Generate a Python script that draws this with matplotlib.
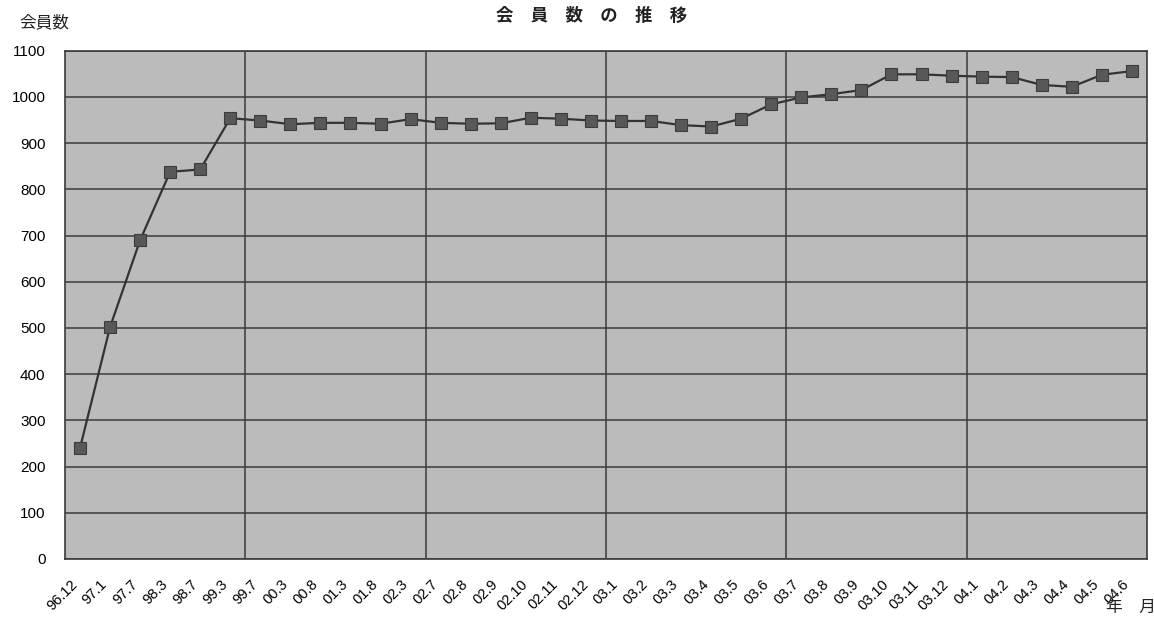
import numpy as np
import matplotlib
matplotlib.use("Agg")
import matplotlib.pyplot as plt
import matplotlib.transforms as mtransforms

plt.rcParams["font.family"] = ["Liberation Sans", "Noto Sans CJK JP"]

# month labels (yy.m) and member counts
months = [
    "96.12", "97.1", "97.7", "98.3", "98.7", "99.3", "99.7", "00.3", "00.8",
    "01.3", "01.8", "02.3", "02.7", "02.8", "02.9", "02.10", "02.11", "02.12",
    "03.1", "03.2", "03.3", "03.4", "03.5", "03.6", "03.7", "03.8", "03.9",
    "03.10", "03.11", "03.12", "04.1", "04.2", "04.3", "04.4", "04.5", "04.6",
]
members = [
    240, 502, 690, 838, 843, 954, 949, 941, 944,
    944, 942, 952, 944, 942, 943, 955, 953, 949,
    948, 948, 939, 936, 953, 984, 999, 1006, 1015,
    1049, 1049, 1046, 1044, 1043, 1026, 1022, 1048, 1056,
]
y_ticks = list(range(0, 1101, 100))

fig = plt.figure(figsize=(11.54, 6.19), dpi=100)
ax = fig.add_axes([0.0563, 0.097, 0.9376, 0.821])
ax.set_facecolor("#bbbbbb")

x = np.arange(len(months))
ax.plot(x, members, color="#333333", lw=1.6, marker="s", ms=8.5,
        mfc="#585858", mec="#3c3c3c", mew=0.8, zorder=3)

ax.set_xlim(-0.5, len(months) - 0.5)
ax.set_ylim(0, 1100)
ax.set_yticks(y_ticks)
ax.set_xticks(x)
ax.set_xticklabels(months, rotation=45, ha="right", va="top", fontsize=10.5)
shift = mtransforms.ScaledTranslation(-7 / 100, 0, fig.dpi_scale_trans)
for lbl in ax.get_xticklabels():
    lbl.set_transform(lbl.get_transform() + shift)
ax.tick_params(axis="x", length=0, pad=13)
ax.tick_params(axis="y", length=0, pad=14, labelsize=11)

# horizontal grid every 100, vertical divider every 6 months
ax.grid(axis="y", color="#3a3a3a", lw=1.1, zorder=1)
for b in np.arange(6, len(months), 6) - 0.5:
    ax.axvline(b, color="#3a3a3a", lw=1.1, zorder=1)
ax.set_axisbelow(True)
for s in ax.spines.values():
    s.set_color("#3a3a3a")
    s.set_linewidth(1.2)

fig.text(0.513, 0.975, "会\u3000員\u3000数\u3000の\u3000推\u3000移", ha="center", va="center",
         fontsize=12.5, fontweight="bold", family=["Noto Sans CJK JP"], color="#222222")
fig.text(0.017, 0.964, "会員数", ha="left", va="center", fontsize=12,
         family=["Noto Sans CJK JP"], color="#222222")
fig.text(0.958, 0.019, "年\u3000月", ha="left", va="center", fontsize=12,
         family=["Noto Sans CJK JP"], color="#222222")

fig.savefig("out.png", dpi=100)
